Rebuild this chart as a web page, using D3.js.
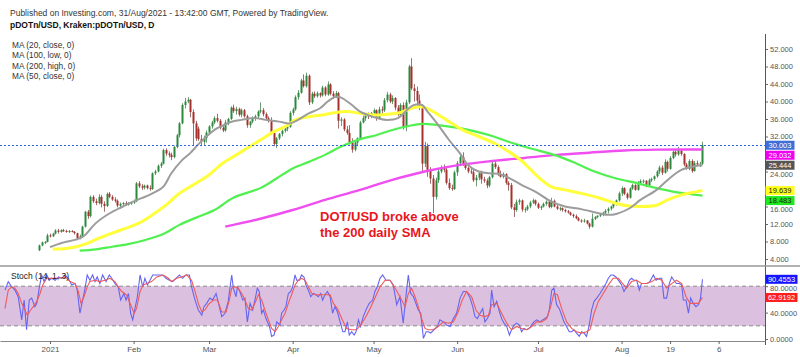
<!DOCTYPE html>
<html><head><meta charset="utf-8">
<script src="https://cdn.jsdelivr.net/npm/d3@7"></script>
<style>body{margin:0;background:#fff;}svg{display:block;font-family:"Liberation Sans",Arial,sans-serif;}</style>
</head><body><svg id="c" width="800" height="357"></svg>
<script>
// ---------------- DATA ----------------
const candleStart = "2020-12-28";
const opens = [6.0,7.1,7.8,7.9,
9.4,9.2,9.8,10.5,10.2,10.6,10.4,10.3,10.4,10.2,9.9,8.8,9.2,11.4,14.8,13.8,18.2,17.2,16.8,18.2,16.6,16.1,18.9,18.2,17.6,17.3,16.2,16.6,16.8,16.4,16.8,
16.9,17.2,21.3,20.6,20.3,20.8,20.2,20.0,23.6,24.0,25.3,25.8,28.9,28.1,27.8,27.3,29.6,32.3,35.0,39.2,40.0,40.4,37.6,35.0,33.8,31.4,30.8,31.6,
32.9,34.3,35.2,36.2,35.6,34.0,33.4,35.2,36.0,38.6,37.8,38.3,37.0,38.0,36.6,34.6,35.4,36.2,36.6,37.7,38.0,37.1,36.2,35.5,32.8,30.3,31.6,32.6,33.3,33.8,34.2,
37.4,38.2,41.0,42.0,44.8,43.5,45.9,39.8,41.8,41.2,41.9,41.4,43.2,41.6,43.9,41.8,41.2,41.9,35.6,35.9,33.6,32.8,30.6,29.0,30.6,31.6,35.2,36.2,36.9,36.6,
37.4,38.0,36.2,38.2,38.0,40.3,41.6,40.0,40.8,38.6,37.0,39.2,34.2,39.8,48.0,43.0,42.4,40.2,38.6,25.8,29.8,24.2,22.4,18.2,22.0,24.0,24.8,24.4,21.4,20.2,20.0,
23.8,25.9,27.3,25.6,24.8,24.0,23.8,22.0,22.6,23.6,22.2,21.9,20.8,22.7,25.8,25.0,23.4,22.8,23.4,21.4,20.9,15.8,15.2,17.0,17.4,15.3,15.4,16.0,16.9,17.4,
16.6,15.7,16.0,16.6,17.1,15.9,17.3,16.0,15.5,15.6,15.2,14.9,14.6,14.1,13.8,13.3,12.8,12.6,12.8,12.1,11.4,13.2,13.6,13.9,14.2,14.6,15.0,15.5,16.0,16.8,17.4,
19.0,20.2,18.9,18.0,20.1,20.9,19.8,21.4,21.8,21.9,20.8,22.0,22.3,22.9,24.0,24.9,23.7,26.2,24.6,27.1,28.5,27.9,28.8,28.0,25.6,24.6,26.4,24.1,25.9,25.6,25.8];
const highs = [7.3,8.0,8.1,9.8,
9.8,10.0,10.8,10.9,10.8,10.9,10.7,10.6,10.6,10.4,10.0,9.6,11.6,15.0,15.2,18.5,18.6,17.8,18.8,18.6,17.2,19.2,19.3,18.6,18.1,17.6,16.9,17.0,17.2,17.0,17.1,
17.6,21.6,21.8,21.1,21.0,21.0,20.8,23.8,24.4,25.6,26.2,29.2,29.3,28.6,28.3,29.9,32.6,35.3,39.6,40.8,41.0,40.6,38.2,35.6,34.3,32.4,32.2,33.4,
34.6,35.6,36.6,37.2,36.0,34.6,35.8,36.3,38.9,39.3,38.8,38.6,38.4,38.3,37.0,35.6,36.6,37.0,38.0,39.8,38.5,37.5,36.6,36.4,33.2,31.9,32.8,33.6,34.2,34.6,37.8,
38.6,41.4,42.6,45.2,46.2,46.6,46.2,42.2,42.3,42.3,42.1,43.6,43.5,44.6,44.2,42.4,42.4,42.2,36.4,36.2,34.4,34.6,31.6,31.0,31.8,35.6,36.8,37.4,37.5,37.6,
38.4,38.2,38.8,38.9,40.8,42.2,42.0,41.4,41.0,39.2,39.6,39.8,40.4,48.4,49.9,44.0,43.4,41.6,39.4,30.8,30.4,25.0,23.2,22.6,24.6,25.4,25.6,24.8,22.4,21.0,24.2,
26.4,27.8,28.4,26.2,25.6,24.8,24.6,23.2,24.0,24.2,22.8,22.4,23.0,26.2,26.6,25.4,24.2,23.8,23.6,21.8,21.4,16.6,17.6,17.8,17.6,15.8,16.4,17.3,17.8,17.6,
16.9,16.2,16.9,17.4,17.3,18.0,17.6,16.3,16.0,15.8,15.5,15.2,14.8,14.4,14.2,13.6,13.1,13.2,12.9,12.3,14.4,13.8,14.0,14.3,14.8,15.4,15.8,16.2,17.0,17.6,19.4,
20.6,20.4,19.2,20.4,21.2,21.1,21.8,22.2,22.2,22.0,22.4,22.6,23.1,24.3,25.3,25.4,26.8,26.5,27.5,28.8,28.9,29.6,29.0,28.2,26.0,26.8,26.8,26.4,26.5,26.2,30.8];
const lows = [5.8,6.9,7.4,7.8,
8.9,9.0,9.6,9.8,10.0,10.2,10.0,9.9,10.1,9.6,8.3,8.5,9.0,11.2,13.2,13.5,16.8,16.3,16.5,15.8,14.8,15.9,17.9,17.3,16.9,15.8,15.6,16.2,16.1,16.2,16.4,
16.6,17.0,20.2,19.8,19.9,19.9,19.6,19.8,23.2,23.8,24.8,25.6,27.6,27.2,26.6,27.0,29.3,31.8,34.8,38.4,39.6,36.4,30.0,31.0,31.0,29.8,29.9,30.6,
32.6,33.8,34.8,35.2,33.6,33.0,33.1,34.6,35.8,37.4,37.0,36.6,36.4,36.3,34.0,34.0,35.0,35.6,36.0,37.3,36.6,35.6,35.2,32.4,29.8,29.4,31.2,32.0,32.9,33.2,34.0,
36.8,37.9,40.4,41.8,43.2,43.2,39.2,39.4,40.8,40.9,40.9,41.1,41.2,41.3,41.4,40.6,40.8,33.8,34.4,33.2,32.4,30.2,28.3,28.6,29.8,31.2,35.0,35.6,36.0,36.2,
37.0,35.6,36.0,36.8,37.6,39.8,39.6,39.4,38.0,36.6,36.8,33.6,33.2,39.4,42.6,40.0,39.0,38.0,24.0,25.0,22.8,21.2,14.5,17.6,21.4,23.6,23.8,21.0,19.8,19.6,19.8,
23.0,25.2,25.3,24.4,23.6,23.4,21.6,20.6,22.0,21.2,21.4,20.2,20.4,22.4,24.6,23.0,22.6,22.4,21.0,19.6,15.4,13.6,14.8,16.4,14.8,14.6,15.0,15.6,16.6,16.2,
15.4,15.2,15.8,16.2,15.6,15.6,15.8,15.2,15.0,14.8,14.6,14.4,13.9,13.4,13.1,12.6,12.3,12.3,11.9,10.9,11.2,12.9,13.3,13.6,13.8,14.2,14.4,15.1,15.6,16.2,17.1,
18.4,18.6,17.6,17.8,19.8,19.6,19.6,21.0,21.3,20.4,20.6,21.6,21.9,22.6,23.4,23.2,23.5,24.0,24.4,26.8,27.4,27.6,27.6,25.2,24.4,24.3,23.7,24.0,25.3,25.0,25.5];
const closes = [7.1,7.8,7.9,9.4,
9.2,9.8,10.5,10.2,10.6,10.4,10.3,10.4,10.2,9.9,8.8,9.2,11.4,14.8,13.8,18.2,17.2,16.8,18.2,16.6,16.1,18.9,18.2,17.6,17.3,16.2,16.6,16.8,16.4,16.8,16.9,
17.2,21.3,20.6,20.3,20.8,20.2,20.0,23.6,24.0,25.3,25.8,28.9,28.1,27.8,27.3,29.6,32.3,35.0,39.2,40.0,40.4,37.6,35.0,31.6,31.4,30.8,31.6,32.9,
34.3,35.2,36.2,35.6,34.0,33.4,35.2,36.0,38.6,37.8,38.3,37.0,38.0,36.6,34.6,35.4,36.2,36.6,37.7,38.0,37.1,36.2,35.5,32.8,30.3,31.6,32.6,33.3,33.8,34.2,37.4,
38.2,41.0,42.0,44.8,43.5,45.9,39.8,41.8,41.2,41.9,41.4,43.2,41.6,43.9,41.8,41.2,41.9,35.6,35.9,33.6,32.8,30.6,29.0,30.6,31.6,35.2,36.2,36.9,36.6,37.4,
38.0,36.2,38.2,38.0,40.3,41.6,40.0,40.8,38.6,37.0,39.2,34.2,39.8,48.0,43.0,42.4,40.2,38.6,25.8,29.8,24.2,22.4,18.2,22.0,24.0,24.8,24.4,21.4,20.2,20.0,23.8,
25.9,27.3,25.6,24.8,24.0,23.8,22.0,22.6,23.6,22.2,21.9,20.8,22.7,25.8,25.0,23.4,22.8,23.4,21.4,20.9,15.8,15.2,17.0,17.4,15.3,15.4,16.0,16.9,17.4,16.6,
15.7,16.0,16.6,17.1,15.9,17.3,16.0,15.5,15.6,15.2,14.9,14.6,14.1,13.8,13.3,12.8,12.6,12.8,12.1,11.4,13.2,13.6,13.9,14.2,14.6,15.0,15.5,16.0,16.8,17.4,19.0,
20.2,18.9,18.0,20.1,20.9,19.8,21.4,21.8,21.9,20.8,22.0,22.3,22.9,24.0,24.9,23.7,26.2,24.6,27.1,28.5,27.9,28.8,28.0,25.6,24.6,26.4,24.1,25.9,25.6,25.8,30.003];

// moving averages: [date, value]
const ma20 = [["2021-01-01",6.7],["2021-01-05",7.6],["2021-01-12",8.7],["2021-01-14",9.5],["2021-01-18",12.2],["2021-01-23",14.4],["2021-01-28",16.0],["2021-01-31",16.9],["2021-02-04",17.9],["2021-02-08",19.0],["2021-02-12",20.5],["2021-02-15",23.6],["2021-02-19",26.6],["2021-02-22",28.2],["2021-02-25",30.2],["2021-02-28",32.0],["2021-03-03",33.5],["2021-03-05",34.2],["2021-03-10",35.5],["2021-03-13",35.8],["2021-03-18",36.2],["2021-03-22",35.8],["2021-03-27",35.4],["2021-03-31",35.0],["2021-04-03",35.8],["2021-04-07",37.3],["2021-04-11",38.4],["2021-04-14",40.0],["2021-04-17",41.1],["2021-04-19",40.9],["2021-04-23",39.2],["2021-04-26",37.7],["2021-04-29",36.9],["2021-05-03",36.1],["2021-05-06",35.8],["2021-05-10",36.2],["2021-05-14",38.4],["2021-05-16",39.2],["2021-05-19",39.2],["2021-05-21",37.7],["2021-05-25",34.6],["2021-05-29",31.2],["2021-06-02",28.2],["2021-06-05",25.5],["2021-06-09",24.0],["2021-06-13",23.6],["2021-06-17",23.4],["2021-06-20",22.6],["2021-06-25",20.9],["2021-06-30",19.4],["2021-07-06",17.1],["2021-07-11",16.0],["2021-07-17",15.4],["2021-07-24",14.4],["2021-07-27",14.1],["2021-07-30",14.3],["2021-08-04",15.6],["2021-08-08",17.5],["2021-08-14",19.8],["2021-08-18",22.0],["2021-08-23",24.3],["2021-08-29",25.3],["2021-08-31",25.444]];
const ma50 = [["2021-01-02",6.3],["2021-01-05",6.3],["2021-01-10",6.7],["2021-01-14",7.4],["2021-01-19",8.7],["2021-01-24",9.9],["2021-01-29",11.0],["2021-02-03",12.2],["2021-02-08",14.1],["2021-02-13",16.3],["2021-02-18",19.0],["2021-02-23",20.9],["2021-02-28",22.8],["2021-03-03",24.3],["2021-03-06",25.9],["2021-03-10",27.4],["2021-03-15",29.3],["2021-03-20",31.2],["2021-03-25",33.1],["2021-03-30",34.5],["2021-04-02",35.8],["2021-04-07",36.5],["2021-04-12",36.9],["2021-04-17",37.5],["2021-04-21",37.7],["2021-04-26",37.3],["2021-05-01",36.9],["2021-05-06",37.1],["2021-05-11",37.5],["2021-05-16",38.6],["2021-05-19",38.8],["2021-05-22",38.1],["2021-05-28",35.8],["2021-06-03",33.5],["2021-06-09",32.0],["2021-06-15",30.4],["2021-06-21",28.2],["2021-06-25",26.4],["2021-06-28",24.6],["2021-07-01",22.8],["2021-07-06",20.5],["2021-07-11",19.8],["2021-07-17",19.0],["2021-07-24",17.9],["2021-07-30",16.7],["2021-08-04",16.1],["2021-08-08",16.0],["2021-08-14",16.3],["2021-08-18",17.5],["2021-08-23",18.6],["2021-08-29",19.4],["2021-08-31",19.639]];
const ma100 = [["2021-01-12",5.9],["2021-01-18",6.2],["2021-01-24",6.8],["2021-01-30",7.4],["2021-02-05",8.3],["2021-02-12",9.7],["2021-02-18",11.8],["2021-02-24",13.4],["2021-03-03",15.2],["2021-03-10",18.0],["2021-03-20",20.2],["2021-03-26",22.4],["2021-04-01",24.7],["2021-04-07",26.2],["2021-04-13",27.8],["2021-04-19",29.7],["2021-04-26",31.4],["2021-05-02",32.3],["2021-05-08",33.5],["2021-05-14",34.4],["2021-05-19",34.9],["2021-05-25",34.6],["2021-06-02",33.9],["2021-06-08",33.1],["2021-06-14",32.1],["2021-06-20",30.8],["2021-06-28",29.3],["2021-07-07",27.8],["2021-07-15",25.9],["2021-07-22",24.0],["2021-07-30",22.4],["2021-08-07",21.3],["2021-08-14",20.2],["2021-08-21",19.3],["2021-08-26",18.9],["2021-08-31",18.483]];
const ma200 = [["2021-03-07",11.4],["2021-03-20",13.2],["2021-04-01",15.2],["2021-04-13",17.5],["2021-04-26",19.8],["2021-05-08",22.1],["2021-05-20",24.0],["2021-06-02",25.5],["2021-06-14",26.4],["2021-06-26",27.1],["2021-07-08",27.8],["2021-07-20",28.3],["2021-08-02",28.8],["2021-08-14",29.0],["2021-08-31",29.032]];

// stochastic: [days since 2021-01-01, value]
const stochK = [[-16.7,74],[-15.5,87],[-14.2,79],[-13.0,74],[-11.8,64],[-10.5,29],[-9.6,59],[-8.7,14],[-7.7,59],[-6.8,62],[-5.6,49],[-4.9,54],[-4.0,77],[-3.1,97],[-2.2,87],[-1.2,97],[-0.3,89],[0.6,92],[1.9,89],[3.1,94],[4.3,92],[5.6,97],[6.8,92],[8.0,82],[9.3,84],[10.1,74],[11.1,39],[12.1,59],[13.0,77],[13.8,97],[14.8,89],[15.8,97],[16.7,87],[17.5,94],[18.5,84],[19.5,97],[20.8,87],[22.0,97],[22.9,92],[24.1,84],[25.3,79],[26.2,59],[27.4,69],[28.2,59],[29.1,69],[29.9,39],[30.7,29],[31.5,46],[32.4,64],[33.4,97],[34.4,79],[35.2,92],[36.1,82],[37.1,89],[38.1,97],[39.3,97],[40.5,97],[41.8,97],[43.0,92],[44.3,89],[45.5,87],[46.7,92],[48.0,97],[49.2,92],[50.4,97],[51.7,97],[52.5,79],[53.8,59],[55.0,44],[56.3,36],[57.1,49],[58.1,54],[59.3,62],[60.3,59],[61.6,69],[62.8,49],[63.7,34],[64.9,39],[66.1,57],[66.8,79],[67.4,97],[68.0,77],[69.0,64],[69.5,79],[70.2,74],[71.5,59],[72.3,62],[73.2,26],[74.2,54],[75.2,44],[76.0,59],[76.9,77],[77.6,72],[78.5,39],[79.1,44],[80.1,31],[81.4,19],[82.2,4],[83.1,6],[84.1,26],[85.3,21],[85.9,39],[86.8,44],[87.5,49],[88.4,69],[89.3,72],[90.0,79],[90.9,97],[91.5,89],[92.5,89],[93.3,97],[94.2,94],[94.9,82],[95.8,74],[96.7,64],[97.7,69],[98.7,67],[99.5,64],[100.4,69],[101.1,59],[102.0,67],[102.9,72],[103.9,64],[104.8,39],[105.7,49],[106.6,41],[107.6,26],[108.6,11],[109.4,11],[110.3,26],[111.0,6],[111.9,11],[112.8,6],[113.5,11],[114.4,29],[115.2,19],[116.2,34],[117.4,46],[118.4,54],[119.7,59],[120.5,72],[121.4,79],[122.4,92],[123.4,97],[124.6,89],[126.1,89],[127.3,82],[128.6,52],[129.8,64],[131.0,24],[132.0,64],[132.9,97],[133.8,69],[134.8,64],[135.7,54],[136.6,44],[137.5,39],[138.5,1],[139.5,11],[140.3,11],[141.2,9],[142.4,14],[143.7,19],[144.6,29],[145.9,26],[147.1,21],[148.4,19],[149.6,31],[150.8,39],[152.1,62],[153.3,72],[154.5,72],[155.8,62],[156.8,49],[157.6,34],[158.5,31],[159.5,39],[160.5,46],[161.3,26],[162.2,31],[163.2,39],[163.8,74],[164.7,49],[165.7,57],[166.7,41],[167.5,31],[168.4,24],[169.4,19],[170.4,6],[171.2,14],[172.1,21],[173.1,24],[174.1,21],[174.9,11],[175.8,16],[176.8,14],[177.8,16],[178.6,21],[179.5,26],[180.5,29],[181.7,26],[182.7,29],[183.6,31],[184.5,34],[185.2,44],[186.1,74],[186.9,77],[187.9,52],[188.9,46],[189.8,36],[190.6,26],[191.6,19],[192.6,11],[193.5,11],[194.3,14],[195.3,9],[196.3,4],[197.2,11],[198.1,9],[199.0,4],[200.0,21],[200.9,44],[201.8,57],[202.8,62],[204.0,69],[205.2,77],[206.2,84],[207.1,92],[208.0,97],[208.9,97],[209.9,94],[211.2,87],[212.0,82],[212.9,72],[213.9,79],[214.9,89],[215.7,92],[216.6,89],[217.6,89],[218.6,74],[219.4,84],[220.7,84],[221.5,84],[222.5,87],[223.8,97],[224.8,89],[226.0,92],[226.9,92],[227.7,62],[228.7,62],[229.7,84],[230.6,94],[231.4,89],[232.4,84],[233.4,84],[234.3,82],[234.9,59],[235.9,59],[236.8,39],[237.6,62],[238.6,54],[239.6,49],[240.5,52],[241.3,62],[242.0,90.4553]];
const stochD = [[-16.7,46],[-15.5,74],[-14.2,79],[-13.0,77],[-11.8,69],[-10.5,54],[-9.3,44],[-8.4,36],[-7.2,44],[-6.2,49],[-4.9,57],[-3.7,69],[-2.7,82],[-1.2,92],[0.6,92],[3.1,92],[5.6,94],[7.4,87],[9.3,84],[10.5,72],[11.5,54],[12.6,64],[13.8,79],[14.8,87],[16.7,89],[18.5,87],[20.4,89],[22.2,92],[24.1,87],[25.3,79],[26.6,72],[28.4,67],[29.9,52],[31.2,39],[32.1,46],[33.4,72],[34.6,82],[35.9,84],[37.7,87],[39.6,94],[42.0,97],[43.9,92],[45.1,87],[47.0,92],[48.8,94],[50.7,97],[52.5,89],[53.8,72],[55.0,54],[56.3,41],[57.5,44],[58.7,52],[60.6,59],[62.1,59],[63.7,41],[65.3,41],[66.5,59],[67.4,77],[68.6,79],[69.8,77],[71.1,69],[72.3,59],[73.6,46],[74.8,44],[76.0,54],[77.3,67],[78.5,59],[79.7,44],[81.0,29],[82.2,16],[83.5,11],[84.7,19],[85.9,29],[87.2,39],[88.4,54],[89.6,67],[90.9,82],[92.1,89],[93.3,92],[94.6,89],[95.8,79],[97.1,69],[98.3,67],[100.1,67],[102.0,67],[103.9,67],[105.1,54],[106.6,46],[108.2,31],[110.0,16],[111.9,14],[113.7,14],[115.2,21],[116.8,31],[118.7,46],[120.5,62],[122.4,79],[124.3,89],[126.1,89],[128.0,77],[129.8,64],[131.7,49],[132.9,69],[134.1,77],[135.4,64],[136.6,49],[137.8,31],[139.1,16],[140.3,14],[142.2,14],[144.0,19],[145.9,26],[147.7,24],[149.6,26],[151.4,41],[152.7,57],[154.5,72],[156.4,64],[158.0,44],[159.5,36],[161.3,34],[162.6,36],[163.8,52],[165.7,54],[167.5,39],[169.4,24],[171.2,14],[173.1,19],[174.9,16],[176.8,14],[178.6,19],[180.5,26],[182.4,26],[184.2,31],[185.7,49],[186.9,69],[188.2,67],[189.8,46],[191.6,26],[193.5,16],[195.3,11],[197.2,9],[199.0,11],[200.3,14],[201.8,39],[203.4,57],[205.2,69],[207.1,82],[208.9,92],[210.8,92],[212.4,84],[213.9,77],[215.7,87],[217.6,89],[219.4,84],[221.3,84],[223.2,87],[225.0,92],[226.9,89],[228.7,77],[230.6,84],[232.4,89],[234.3,84],[235.9,64],[237.4,54],[238.9,54],[240.5,54],[242.0,62.9192]];

const priceTicks = [4,8,12,16,20,24,28,32,36,40,44,48,52];
const stochTicks = [0,40,80];
const stochBand = [20,80];
const dateTicks = ["2021-01-01","2021-02-01","2021-03-01","2021-04-01","2021-05-01","2021-06-01","2021-07-01","2021-08-01","2021-08-19","2021-09-06"];
const dateTickLabels = ["2021","Feb","Mar","Apr","May","Jun","Jul","Aug","19","6"];
const titleText = "Published on Investing.com, 31/Aug/2021 - 13:42:00 GMT, Powered by TradingView.";
const symbolText = "pDOTn/USD, Kraken:pDOTn/USD, D";
const legendTexts = ["MA (20, close, 0)","MA (100, low, 0)","MA (200, high, 0)","MA (50, close, 0)"];
const noteLines = ["DOT/USD broke above","the 200 daily SMA"];
const stochTitle = "Stoch (14, 1, 3)";

// ---------------- DRAW ----------------
const svg = d3.select("#c");
const parse = d3.utcParse("%Y-%m-%d");
const DAY = 864e5, T0 = Date.UTC(2021,0,1);
const plotR = 765;
const x = d3.scaleUtc().domain([new Date(T0-18.55*DAY), new Date(T0+265.2*DAY)]).range([0,plotR]);
const y = d3.scaleLinear().domain([4,52]).range([259,49]);
const ys = d3.scaleLinear().domain([0,100]).range([339,273]);
const fromDay = d => new Date(T0 + d*DAY);
const FONT = "Liberation Sans, Arial, sans-serif";

svg.append("rect").attr("width",800).attr("height",357).attr("fill","#fff");
const defs = svg.append("defs");
defs.append("clipPath").attr("id","mainClip").append("rect").attr("x",0).attr("y",33).attr("width",plotR).attr("height",231);
defs.append("clipPath").attr("id","stClip").append("rect").attr("x",0).attr("y",267).attr("width",plotR).attr("height",73);

// header texts
svg.append("text").attr("x",10).attr("y",16).attr("font-size",8.5).attr("fill","#333").text(titleText);
svg.append("text").attr("x",10).attr("y",28).attr("font-size",8.5).attr("font-weight","bold").attr("fill","#111").text(symbolText);
legendTexts.forEach((t,i)=>svg.append("text").attr("x",12).attr("y",48+i*10.4).attr("font-size",8.3).attr("fill","#333").text(t));

// ---- main panel ----
const main = svg.append("g").attr("clip-path","url(#mainClip)");
const candles = closes.map((c,i)=>({date:d3.utcDay.offset(parse(candleStart),i), o:opens[i], h:highs[i], l:lows[i], c}));
const up="#2a8a3c", dn="#a8302c";
main.selectAll(".wick").data(candles).join("line")
  .attr("x1",d=>Math.round(x(d.date))+0.5).attr("x2",d=>Math.round(x(d.date))+0.5)
  .attr("y1",d=>y(d.h)).attr("y2",d=>y(d.l))
  .attr("stroke",d=>d.c>=d.o?"#6f9a76":"#a07070").attr("stroke-width",1);
main.selectAll(".body").data(candles).join("rect")
  .attr("x",d=>Math.round(x(d.date))-0.5).attr("width",2)
  .attr("y",d=>y(Math.max(d.o,d.c))).attr("height",d=>Math.max(1,Math.abs(y(d.o)-y(d.c))))
  .attr("fill",d=>d.c>=d.o?up:dn);

const maLine = d3.line().x(d=>x(parse(d[0]))).y(d=>y(d[1])).curve(d3.curveCatmullRom.alpha(0.5));
const maStyles = [[ma200,"#f04ef0",2.4],[ma100,"#4ff04f",2.2],[ma50,"#ffff3a",3],[ma20,"#9c9c9c",2]];
maStyles.forEach(([data,col,w])=>main.append("path").attr("d",maLine(data)).attr("fill","none").attr("stroke",col).attr("stroke-width",w).attr("stroke-linejoin","round"));

// last price dotted line
const lastClose = closes[closes.length-1];
svg.append("line").attr("x1",0).attr("x2",plotR).attr("y1",Math.round(y(lastClose))+0.5).attr("y2",Math.round(y(lastClose))+0.5)
  .attr("stroke","#2f62e8").attr("stroke-width",1).attr("stroke-dasharray","2,2");

// annotation
noteLines.forEach((t,i)=>svg.append("text").attr("x",320).attr("y",220.5+i*16.6).attr("font-size",13).attr("font-weight","bold").attr("fill","#e8161c").text(t));

// value tags (computed first so covered axis labels can be handled)
const TAG_H = 9, LBL_H = 7.6;
const tags = [
  {v:lastClose, bg:"#3f6fd6", fg:"#fff"},
  {v:ma200[ma200.length-1][1], bg:"#f000f0", fg:"#fff"},
  {v:ma20[ma20.length-1][1], bg:"#555", fg:"#fff"},
  {v:ma50[ma50.length-1][1], bg:"#ffff1a", fg:"#222"},
  {v:ma100[ma100.length-1][1], bg:"#1ee81e", fg:"#222"}
].map(t=>({...t, cy:y(t.v)})).sort((a,b)=>a.cy-b.cy);
for(let i=1;i<tags.length;i++){ if(tags[i].cy<tags[i-1].cy+10) tags[i].cy=tags[i-1].cy+10; }
const sTags = [
  {v:stochK[stochK.length-1][1], bg:"#1414ff", fg:"#fff"},
  {v:stochD[stochD.length-1][1], bg:"#ff1e1e", fg:"#fff"}
].map(t=>({...t, cy:ys(t.v)}));

// handle axis labels hidden/partly hidden behind tags (as the tags sit on top of them)
function fixLabels(axisG, scale, tagList){
  axisG.selectAll(".tick").each(function(v){
    const ly = scale(v);
    const txt = d3.select(this).select("text");
    let hit = null;
    tagList.forEach(t=>{ if(Math.abs(ly-t.cy) < TAG_H/2+LBL_H/2) hit = t; });
    if(!hit) return;
    if(Math.abs(ly-hit.cy) <= 5) { txt.remove(); return; }
    const target = ly>hit.cy ? hit.cy+TAG_H/2+LBL_H/2+0.4 : hit.cy-TAG_H/2-LBL_H/2-0.4;
    txt.attr("transform",`translate(0,${target-ly})`);
  });
}

// right price axis
const yAx = svg.append("g").attr("transform",`translate(${plotR},0)`)
  .call(d3.axisRight(y).tickValues(priceTicks).tickFormat(d3.format(".3f")).tickSize(3).tickPadding(2));
yAx.select(".domain").remove();
yAx.selectAll("line").attr("stroke","#666");
yAx.selectAll("text").attr("font-size",7.5).attr("fill","#555").attr("font-family",FONT);
fixLabels(yAx, y, tags);
svg.append("line").attr("x1",plotR+0.5).attr("x2",plotR+0.5).attr("y1",34).attr("y2",345).attr("stroke","#555").attr("stroke-width",1);

function drawTag(t, fmt, w){
  svg.append("rect").attr("x",plotR+0.5).attr("y",t.cy-TAG_H/2).attr("width",w).attr("height",TAG_H).attr("fill",t.bg);
  svg.append("text").attr("x",plotR+0.5+w/2).attr("y",t.cy+2.7).attr("text-anchor","middle").attr("font-size",7.5).attr("fill",t.fg).text(fmt(t.v));
}
tags.forEach(t=>drawTag(t,d3.format(".3f"),29));

// ---- stochastic panel ----
svg.append("line").attr("x1",0).attr("x2",800).attr("y1",266).attr("y2",266).attr("stroke","#999").attr("stroke-width",1.5);
const st = svg.append("g").attr("clip-path","url(#stClip)");
st.append("rect").attr("x",0).attr("width",plotR).attr("y",ys(stochBand[1])).attr("height",ys(stochBand[0])-ys(stochBand[1])).attr("fill","#dcc0e0");
stochBand.forEach(v=>st.append("line").attr("x1",0).attr("x2",plotR).attr("y1",ys(v)).attr("y2",ys(v)).attr("stroke","#8a8a8a").attr("stroke-dasharray","4,3"));
const stLine = d3.line().x(d=>x(fromDay(d[0]))).y(d=>ys(d[1]));
st.append("path").attr("d",stLine(stochK)).attr("fill","none").attr("stroke","#6464f2").attr("stroke-width",1.1);
st.append("path").attr("d",stLine(stochD)).attr("fill","none").attr("stroke","#f05a5a").attr("stroke-width",1.1);
svg.append("text").attr("x",11).attr("y",279).attr("font-size",8.5).attr("fill","#222").text(stochTitle);

const sAx = svg.append("g").attr("transform",`translate(${plotR},0)`)
  .call(d3.axisRight(ys).tickValues(stochTicks).tickFormat(d3.format(".4f")).tickSize(3).tickPadding(2));
sAx.select(".domain").remove();
sAx.selectAll("line").attr("stroke","#666");
sAx.selectAll("text").attr("font-size",7.5).attr("fill","#555").attr("font-family",FONT);
fixLabels(sAx, ys, sTags);
sTags.forEach(t=>drawTag(t,d3.format(".4f"),32));

// bottom time axis
const xAx = svg.append("g").attr("transform","translate(0,341)")
  .call(d3.axisBottom(x).tickValues(dateTicks.map(parse)).tickFormat((d,i)=>dateTickLabels[i]).tickSize(3).tickSizeOuter(0).tickPadding(2));
xAx.select(".domain").attr("stroke","#888").attr("stroke-width",1.2);
xAx.selectAll("line").attr("stroke","#666");
xAx.selectAll("text").attr("font-size",8).attr("fill","#555").attr("font-family",FONT);
</script>
</body></html>
